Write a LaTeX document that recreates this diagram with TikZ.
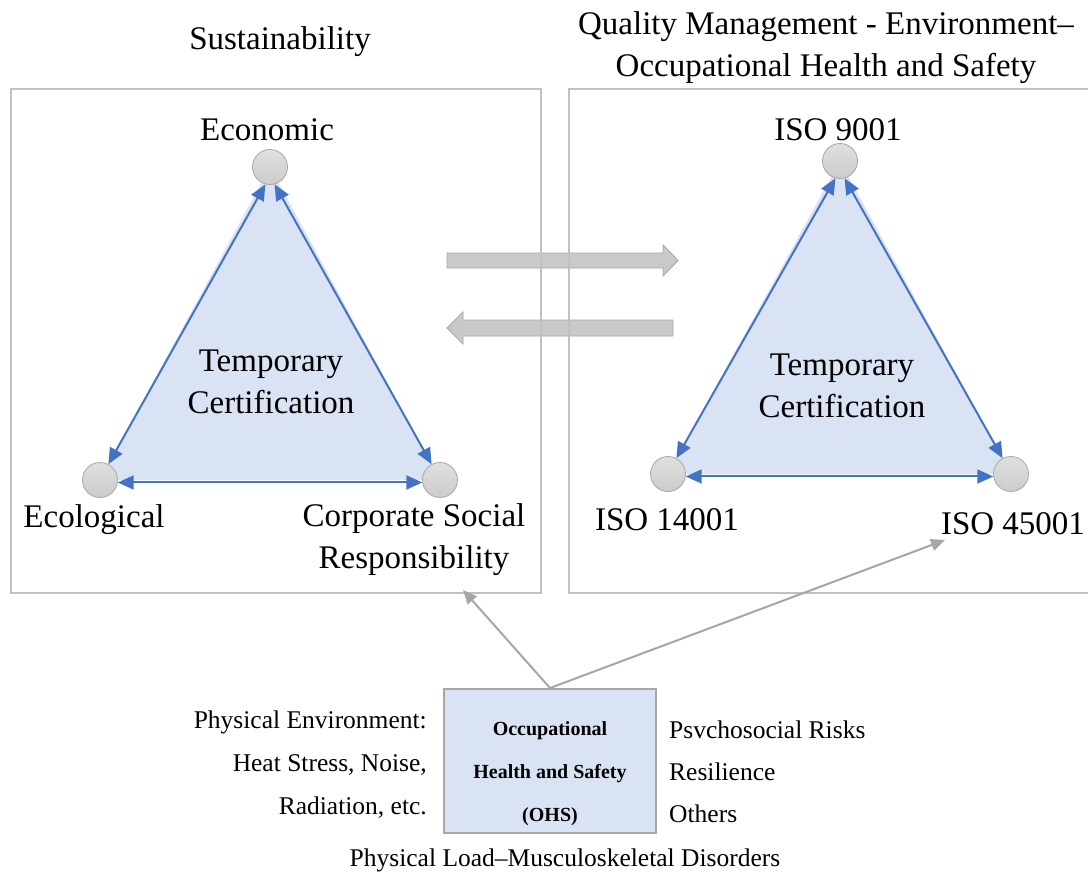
\documentclass[tikz,border=0pt]{standalone}
\usepackage{fontspec}
\setmainfont{Liberation Serif}
\usetikzlibrary{arrows.meta}
\definecolor{triblue}{HTML}{DAE3F3}
\definecolor{edgeblue}{HTML}{4472C4}
\definecolor{framegray}{HTML}{C0C0C0}
\definecolor{conngray}{HTML}{A6A6A6}
\definecolor{blockfill}{HTML}{C9C9C9}
\definecolor{blockedge}{HTML}{A8A8A8}
\tikzset{
  big/.style={font=\fontsize{33}{42}\selectfont, align=center, inner sep=0pt},
  side/.style={font=\fontsize{25.5}{28}\selectfont, inner sep=0pt},
  ohsfont/.style={font=\bfseries\fontsize{20}{43}\selectfont, align=center, inner sep=0pt},
  vertex/.style={circle, minimum size=35pt, inner sep=0pt, draw=blockedge, line width=0.8pt,
                 top color=gray!25, bottom color=gray!40},
  tri/.style={fill=triblue},
  edge/.style={draw=edgeblue, line width=2pt,
               {Triangle[length=16pt,width=14pt]}-{Triangle[length=16pt,width=14pt]}},
  panel/.style={draw=framegray, line width=2.2pt},
  blockarrow/.style={fill=blockfill, draw=blockedge, line width=0.9pt},
  link/.style={draw=conngray, line width=2pt, -{Triangle[length=14pt,width=12pt]}},
}
\begin{document}
\begin{tikzpicture}[x=1pt,y=-1pt]
\useasboundingbox (0,0) rectangle (1088,872);
\fill[white] (0,0) rectangle (1088,872);

% block arrows between the two panels
\path[blockarrow] (447,253) -- (663,253) -- (663,245) -- (678,260.5) -- (663,276) -- (663,268) -- (447,268) -- cycle;
\path[blockarrow] (673,320) -- (463,320) -- (463,312) -- (447,328) -- (463,344) -- (463,336) -- (673,336) -- cycle;

% panels
\draw[panel] (11,89) rectangle (541,593);
\begin{scope}
  \clip (0,0) rectangle (1088,872);
  \draw[panel] (569,89) rectangle (1100,593);
\end{scope}

% titles
\node[big] (tsus) at (280,42) {Sustainability};
\node[big] (tqm) at (826,48) {Quality Management - Environment–\\Occupational Health and Safety};

% sustainability triangle
\path[tri] (270,167) -- (100,480) -- (440,480) -- cycle;
\node[vertex] (eco) at (270,167) {};
\node[vertex] (ecl) at (100,480) {};
\node[vertex] (csr) at (440,480) {};
\draw[edge] (eco.255) -- (ecl.62);
\draw[edge] (eco.285) -- (csr.118);
\draw[edge] (ecl.-8) -- (csr.188);
\node[big] (leco) at (267,130) {Economic};
\node[big] (lecl) at (94,520) {Ecological};
\node[big] (lcsr) at (414,540) {Corporate Social\\Responsibility};
\node[big] (ltc1) at (271,382) {Temporary\\Certification};

% ISO triangle
\path[tri] (840,161) -- (668,474) -- (1011,474) -- cycle;
\node[vertex] (q) at (840,161) {};
\node[vertex] (env) at (668,474) {};
\node[vertex] (ohsv) at (1011,474) {};
\draw[edge] (q.255) -- (env.62);
\draw[edge] (q.285) -- (ohsv.118);
\draw[edge] (env.-8) -- (ohsv.188);
\node[big] (lq) at (838,130) {ISO 9001};
\node[big] (lenv) at (667,520) {ISO 14001};
\node[big] (lohs) at (1013,524) {ISO 45001};
\node[big] (ltc2) at (842,386) {Temporary\\Certification};

% occupational health and safety block
\node[draw=conngray, fill=triblue, line width=2pt, minimum width=212pt, minimum height=144pt, inner sep=0pt] (ohs) at (550,761) {};
\node[ohsfont] (ohstext) at (550,774) {Occupational\\Health and Safety\\(OHS)};

\node[side, anchor=base east] (pe1) at (427,728) {Physical Environment:};
\node[side, anchor=base east] (pe2) at (427,771) {Heat Stress, Noise,};
\node[side, anchor=base east] (pe3) at (427,814) {Radiation, etc.};
\node[side, anchor=base west] (ps1) at (669,738) {Psvchosocial Risks};
\node[side, anchor=base west] (ps2) at (669,780) {Resilience};
\node[side, anchor=base west] (ps3) at (669,822) {Others};
\node[side, anchor=base] (pl) at (565,866) {Physical Load–Musculoskeletal Disorders};

% links from the block to both panels
\coordinate (toleft) at (463,590);
\coordinate (toright) at (945,540);
\draw[link] (ohs.north) -- (toleft);
\draw[link] (ohs.north) -- (toright);
\end{tikzpicture}
\end{document}
